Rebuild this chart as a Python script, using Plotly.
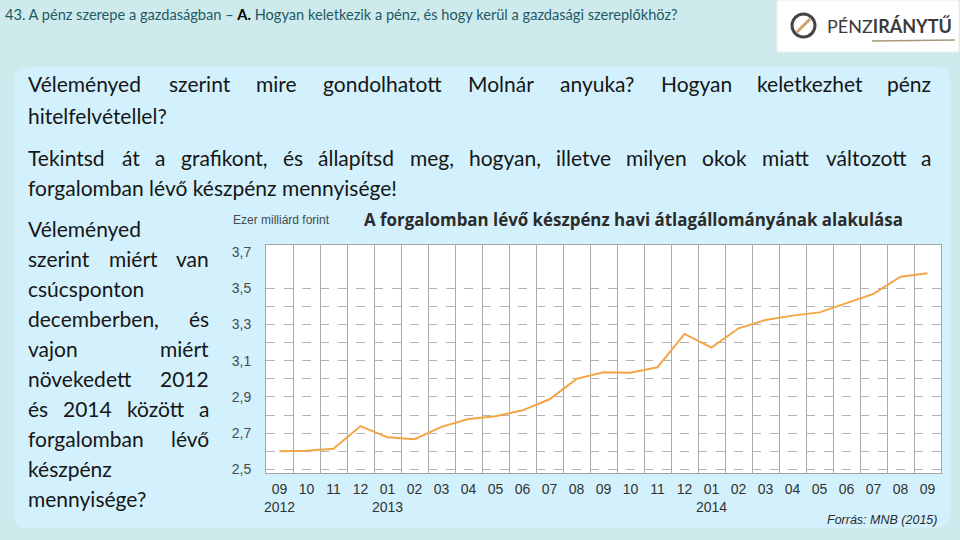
import plotly.graph_objects as go

# ---------------- data ----------------
months = ["09", "10", "11", "12", "01", "02", "03", "04", "05", "06", "07", "08",
          "09", "10", "11", "12", "01", "02", "03", "04", "05", "06", "07", "08", "09"]
year_marks = {0: "2012", 4: "2013", 16: "2014"}
values = [2.600, 2.603, 2.614, 2.739, 2.677, 2.667, 2.735, 2.778, 2.794, 2.826, 2.887, 3.000,
          3.036, 3.034, 3.064, 3.248, 3.172, 3.279, 3.325, 3.349, 3.367, 3.417, 3.469, 3.564, 3.583]
y_tick_vals = [2.5, 2.7, 2.9, 3.1, 3.3, 3.5, 3.7]
y_tick_text = ["2,5", "2,7", "2,9", "3,1", "3,3", "3,5", "3,7"]
y_grid_vals = [2.5, 2.6, 2.7, 2.8, 2.9, 3.0, 3.1, 3.2, 3.3, 3.4, 3.5]

chart_title = "A forgalomban lévő készpénz havi átlagállományának alakulása"
unit_label = "Ezer milliárd forint"
source_label = "Forrás: MNB (2015)"
header_a = "43. A pénz szerepe a gazdaságban – "
header_b = "A."
header_c = " Hogyan keletkezik a pénz, és hogy kerül a gazdasági szereplőkhöz?"

main_lines = [
    ("Véleményed szerint mire gondolhatott Molnár anyuka? Hogyan keletkezhet pénz", True),
    ("hitelfelvétellel?", False),
    ("Tekintsd át a grafikont, és állapítsd meg, hogyan, illetve milyen okok miatt változott a", True),
    ("forgalomban lévő készpénz mennyisége!", False),
]
side_lines = [
    ("Véleményed", False), ("szerint miért van", True), ("csúcsponton", False),
    ("decemberben, és", True), ("vajon miért", True), ("növekedett 2012", True),
    ("és 2014 között a", True), ("forgalomban lévő", True), ("készpénz", False),
    ("mennyisége?", False),
]

# ---------------- geometry helpers ----------------
L, R, T, B = 266, 941, 245, 473


def px(x):
    return (x - L) / (R - L)


def py(y):
    return (B - y) / (B - T)


CW = dict(a=.507, b=.56, c=.46, d=.56, e=.52, f=.32, g=.50, h=.56, i=.24, j=.24, k=.50,
          l=.24, m=.84, n=.56, o=.56, p=.56, q=.56, r=.37, s=.43, t=.35, u=.56, v=.50,
          w=.77, x=.49, y=.50, z=.45, T=.56, V=.67, H=.74, M=.88)
ACC = {"á": "a", "é": "e", "í": "i", "ó": "o", "ö": "o", "ő": "o", "ú": "u", "ü": "u", "ű": "u"}
PUN = {",": .22, "?": .42, "!": .29, ".": .22, " ": .193}


def tw(s, size):
    w = 0
    for ch in s:
        if ch in PUN:
            w += PUN[ch]
        elif ch.isdigit():
            w += .58
        else:
            w += CW.get(ACC.get(ch, ch), .55)
    return w * size


BODY = dict(family="Lato, 'Open Sans', sans-serif", size=21, color="#161616")
NARROW = "'Liberation Sans Narrow', 'Arial Narrow', sans-serif"

annotations = []


def text_at(x, y, txt, font, xanchor="left", yanchor="middle"):
    annotations.append(dict(x=px(x), y=py(y), xref="paper", yref="paper", text=txt,
                            showarrow=False, xanchor=xanchor, yanchor=yanchor,
                            font=font, borderpad=0))


def line_of_text(txt, justified, x0, x1, yc, font):
    words = txt.split(" ")
    if not justified or len(words) == 1:
        text_at(x0, yc, txt, font)
        return
    widths = [tw(w, font["size"]) for w in words]
    gap = (x1 - x0 - sum(widths)) / (len(words) - 1)
    x = x0
    for k, w in enumerate(words):
        if k == len(words) - 1:
            text_at(x1, yc, w, font, xanchor="right")
        else:
            text_at(x, yc, w, font)
        x += widths[k] + gap


main_y = [84, 116, 157, 187]
for (txt, just), yc in zip(main_lines, main_y):
    line_of_text(txt, just, 27, 932, yc, BODY)

side_y = [228, 258, 288, 318, 348, 378, 408, 438, 468, 498]
for (txt, just), yc in zip(side_lines, side_y):
    line_of_text(txt, just, 27, 210, yc, BODY)

# header
text_at(4, 14, header_a + "<span style='color:#000000'><b>" + header_b + "</b></span>" + header_c,
        dict(family="Lato, sans-serif", size=14.6, color="#1d5a66"))
# logo text
text_at(826, 26, "PÉNZ<b>IRÁNYTŰ</b>", dict(family="Lato, sans-serif", size=18, color="#3a3a3a"))
# chart texts
text_at(363, 219, "<b>" + chart_title + "</b>", dict(family="'Open Sans', sans-serif", size=16.9, color="#2b2b2b"))
text_at(232, 220, unit_label, dict(family=NARROW, size=12, color="#4a4a4a"))
text_at(938, 520, "<i>" + source_label + "</i>", dict(family=NARROW, size=12.5, color="#2b2b2b"),
        xanchor="right")

# ---------------- shapes (slide decoration) ----------------
def rrect(x0, y0, x1, y1, r):
    rx, ry = r / (R - L), r / (B - T)
    X0, X1, Yt, Yb = px(x0), px(x1), py(y0), py(y1)
    return (f"M {X0+rx},{Yt} L {X1-rx},{Yt} Q {X1},{Yt} {X1},{Yt-ry} L {X1},{Yb+ry} "
            f"Q {X1},{Yb} {X1-rx},{Yb} L {X0+rx},{Yb} Q {X0},{Yb} {X0},{Yb+ry} "
            f"L {X0},{Yt-ry} Q {X0},{Yt} {X0+rx},{Yt} Z")


shapes = [
    dict(type="path", path=rrect(14, 67, 950, 528, 14), xref="paper", yref="paper",
         fillcolor="#d3f1fc", line=dict(width=0), layer="below"),
    dict(type="rect", x0=px(L), x1=px(R), y0=py(B), y1=py(T), xref="paper", yref="paper",
         fillcolor="#ffffff", line=dict(width=0), layer="below"),
    dict(type="rect", x0=px(777), x1=px(959), y0=py(52), y1=py(0), xref="paper", yref="paper",
         fillcolor="#ffffff", line=dict(color="#e6eeee", width=1), layer="below"),
    dict(type="circle", x0=px(792), x1=px(815), y0=py(37), y1=py(14), xref="paper", yref="paper",
         line=dict(color="#454545", width=3), fillcolor="rgba(0,0,0,0)", layer="above"),
    dict(type="line", x0=px(797), x1=px(810), y0=py(32), y1=py(19), xref="paper", yref="paper",
         line=dict(color="#c9a36a", width=3), layer="above"),
    dict(type="line", x0=px(872), x1=px(955), y0=py(41), y1=py(40), xref="paper", yref="paper",
         line=dict(color="#a8987a", width=1.5), layer="above"),
]

# ---------------- figure ----------------
idx = list(range(len(months)))
xlabels = [m + ("<br>" + year_marks[i] if i in year_marks else "") for i, m in enumerate(months)]
xr = [-0.5, len(months) - 0.5]
yr = [2.48, 3.739]

fig = go.Figure()
fig.add_trace(go.Scatter(x=idx, y=values, xaxis="x", yaxis="y", mode="lines",
                         line=dict(width=0.1, color="rgba(0,0,0,0)"), opacity=0,
                         hoverinfo="skip", showlegend=False))
fig.add_trace(go.Scatter(x=idx, y=values, xaxis="x2", yaxis="y2", mode="lines",
                         line=dict(color="#F2A645", width=2), showlegend=False))

fig.update_layout(
    width=960, height=540,
    margin=dict(l=L, r=960 - R, t=T, b=540 - B),
    paper_bgcolor="#cfeaec",
    plot_bgcolor="#ffffff",
    showlegend=False,
    xaxis=dict(range=xr, tickmode="array", tickvals=[i - 0.5 for i in range(len(months) + 1)],
               showticklabels=False, ticks="", showgrid=True, gridcolor="#ababab", gridwidth=1.4,
               showline=True, mirror=True, linecolor="#a5a5a5", linewidth=1, zeroline=False,
               fixedrange=True),
    yaxis=dict(range=yr, tickmode="array", tickvals=y_grid_vals, showticklabels=False, ticks="",
               showgrid=True, griddash="dash", gridcolor="#b3b3b3", gridwidth=1,
               showline=True, mirror=True, linecolor="#a5a5a5", linewidth=1, zeroline=False,
               fixedrange=True),
    xaxis2=dict(overlaying="x", anchor="y", side="bottom", range=xr, tickmode="array",
                tickvals=idx, ticktext=xlabels, showgrid=False, zeroline=False, showline=False,
                ticks="outside", ticklen=3, tickcolor="rgba(0,0,0,0)",
                tickfont=dict(family=NARROW, size=14, color="#333333")),
    yaxis2=dict(overlaying="y", anchor="x", side="left", range=yr, tickmode="array",
                tickvals=y_tick_vals, ticktext=y_tick_text, showgrid=False, zeroline=False,
                showline=False, ticks="outside", ticklen=11, tickcolor="rgba(0,0,0,0)",
                tickfont=dict(family=NARROW, size=14, color="#4a4a4a")),
    shapes=shapes,
    annotations=annotations,
)

fig.write_html("out.html", config={"displayModeBar": False},
               post_script="document.body.style.margin='0px';document.body.style.overflow='hidden';")
